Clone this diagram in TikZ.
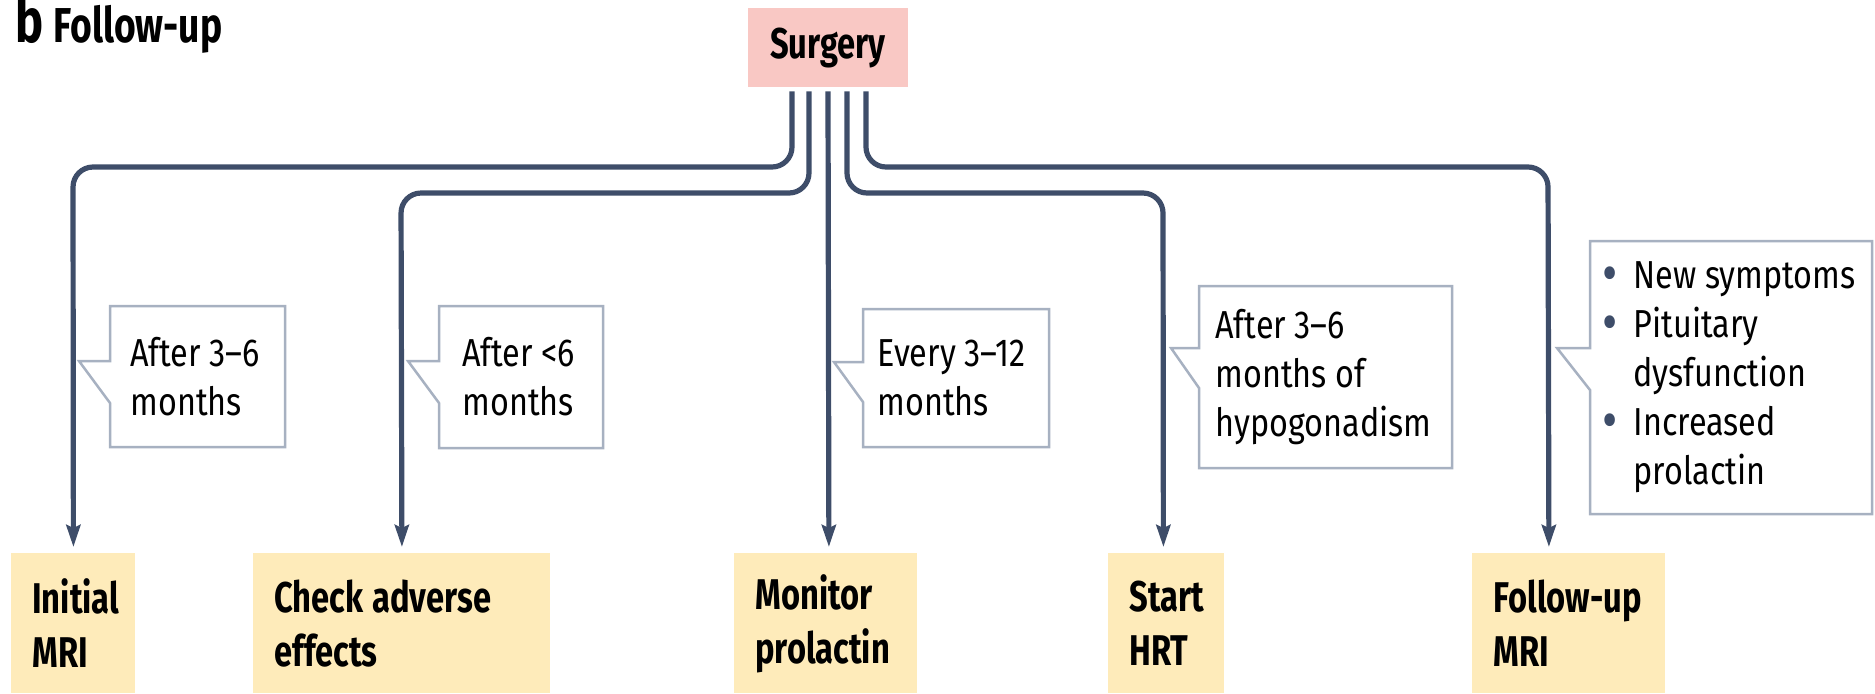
\documentclass[tikz,border=0pt]{standalone}
\usepackage{fontspec}
\usepackage{graphicx}
\setmainfont{Fira Sans}[FakeStretch=0.83]
\newfontfamily\lblfont{Fira Sans}[FakeStretch=0.76]
\usetikzlibrary{arrows.meta,calc}
\definecolor{linec}{HTML}{3E4D69}
\definecolor{pinkc}{HTML}{F9C8C4}
\definecolor{yellowc}{HTML}{FEEBBA}
\definecolor{callc}{HTML}{A7B1C1}
\tikzset{
  conn/.style={draw=linec, line width=2.6pt, rounded corners=10pt,
    -{Stealth[length=11pt,width=7pt,inset=1.5pt]}},
  straight/.style={draw=linec, line width=2.6pt,
    -{Stealth[length=11pt,width=7pt,inset=1.5pt]}},
  surgbox/.style={fill=pinkc, minimum width=80pt, minimum height=39.5pt, inner sep=0pt,
    font=\lblfont\bfseries\fontsize{21.5}{26}\selectfont},
  actbox/.style={fill=yellowc, anchor=north west, inner xsep=10.5pt, inner ysep=0pt,
    minimum height=70pt, text width=#1, align=left,
    font=\lblfont\bfseries\fontsize{21.5}{27}\selectfont},
  callout/.style={draw=callc, line width=1.25pt, fill=white, line join=miter},
  calltext/.style={anchor=west, inner sep=0pt, align=left,
    font=\fontsize{19.5}{24.5}\selectfont}
}
\newcommand{\bul}{\raisebox{-1.6pt}{\scalebox{1.45}{\textcolor{linec}{\textbullet}}}}
\begin{document}
\begin{tikzpicture}[x=0.5pt,y=-0.5pt]
\useasboundingbox (0,0) rectangle (1875,693);

% title
\node[anchor=base west, inner sep=0pt, font=\lblfont\bfseries] (title) at (15,42)
  {{\fontsize{31}{31}\selectfont b}\hspace{5pt}{\fontsize{24.5}{28}\selectfont Follow-up}};

% surgery
\node[surgbox] (surg) at (828,47.5) {Surgery};

% bottom boxes
\node[actbox=41pt] (ini) at (11,553) {Initial\\MRI};
\node[actbox=127.5pt] (chk) at (253,553) {Check\hspace{4.5pt}adverse\\effects};
\node[actbox=70.5pt] (mon) at (734,553) {Monitor\\prolactin};
\node[actbox=37pt] (hrt) at (1108,553) {Start\\HRT};
\node[actbox=75.5pt] (fol) at (1472,553) {Follow-up\\MRI};

% connectors
\draw[conn] ([xshift=-18pt,yshift=-2pt]surg.south) |- (73,167) -- ([yshift=3pt]ini.north);
\draw[conn] ([xshift=-9.5pt,yshift=-2pt]surg.south) |- (401,193) -- ([yshift=3pt]chk.north);
\draw[straight] ([yshift=-2pt]surg.south) -- ([xshift=1.5pt,yshift=3pt]mon.north);
\draw[conn] ([xshift=9.5pt,yshift=-2pt]surg.south) |- (1163,193) -- ([xshift=-1.5pt,yshift=3pt]hrt.north);
\draw[conn] ([xshift=19pt,yshift=-2pt]surg.south) |- (1548,167) -- ([xshift=-10pt,yshift=3pt]fol.north);

% callouts
\draw[callout] (110,306) -- (285,306) -- (285,447) -- (110,447) -- (110,403) -- (79,361) -- (110,361) -- cycle;
\node[calltext] (t1) at (130,377) {After 3--6\\months};

\draw[callout] (439,306) -- (603,306) -- (603,448) -- (439,448) -- (439,403) -- (408,361) -- (439,361) -- cycle;
\node[calltext] (t2) at (462,377) {After <6\\months};

\draw[callout] (863,309) -- (1049,309) -- (1049,447) -- (863,447) -- (863,402) -- (834,362) -- (863,362) -- cycle;
\node[calltext] (t3) at (877,378) {Every 3--12\\months};

\draw[callout] (1199,286) -- (1452,286) -- (1452,468) -- (1199,468) -- (1199,388) -- (1171,348) -- (1199,348) -- cycle;
\node[calltext] (t4) at (1215,377) {After 3--6\\months of\\hypogonadism};

\draw[callout] (1590,241) -- (1872,241) -- (1872,514) -- (1590,514) -- (1590,390) -- (1557,348) -- (1590,348) -- cycle;
\node[calltext] (t5) at (1602,377) {\begin{tabular}{@{}l@{\hspace{8pt}}l@{}}
  \bul & New symptoms\\
  \bul & Pituitary\\
       & dysfunction\\
  \bul & Increased\\
       & prolactin
  \end{tabular}};
\end{tikzpicture}
\end{document}
